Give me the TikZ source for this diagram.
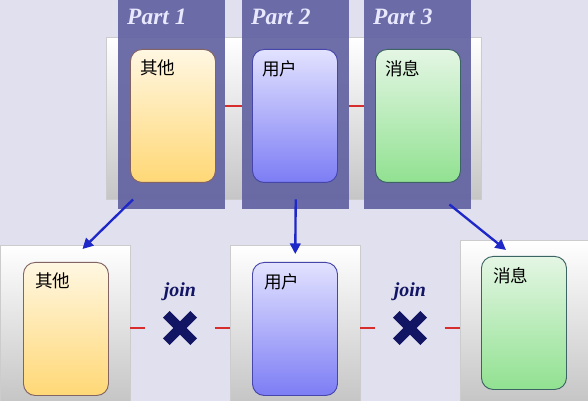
\documentclass[tikz,border=0pt]{standalone}
\usepackage{fontspec}
\setmainfont{Liberation Serif}
\newfontfamily\cjk{Noto Sans CJK SC}
\usetikzlibrary{positioning,arrows.meta}
\newcommand\pxu{0.03cm}
\definecolor{bgc}{RGB}{224,224,238}
\definecolor{bandc}{RGB}{98,98,162}
\definecolor{partc}{RGB}{232,232,255}
\definecolor{arrowc}{RGB}{30,40,200}
\definecolor{navyc}{RGB}{18,20,100}
\definecolor{redc}{RGB}{215,45,45}
\definecolor{yeltop}{RGB}{255,247,226}
\definecolor{yelbot}{RGB}{255,216,118}
\definecolor{yeldraw}{RGB}{130,100,100}
\definecolor{bluetop}{RGB}{226,226,255}
\definecolor{bluebot}{RGB}{125,125,245}
\definecolor{bluedraw}{RGB}{70,70,170}
\definecolor{grntop}{RGB}{228,246,228}
\definecolor{grnbot}{RGB}{145,225,145}
\definecolor{grndraw}{RGB}{60,100,100}
\tikzset{
  container/.style={draw=gray!40, top color=white, bottom color=gray!45, anchor=north west, inner sep=0pt},
  band/.style={fill=bandc, fill opacity=0.92, anchor=north west, inner sep=0pt,
    minimum width=107*\pxu, minimum height=209*\pxu},
  tablebox/.style n args={3}{draw=#1, line width=0.8pt, top color=#2, bottom color=#3,
    rounded corners=10pt, anchor=north west, inner sep=0pt,
    minimum width=85*\pxu, minimum height=133*\pxu},
  tname/.style={anchor=north west, inner sep=0pt, font=\cjk\fontsize{15}{17}\selectfont},
  partlabel/.style={anchor=north west, inner sep=0pt, text=partc, font=\fontsize{20}{22}\selectfont\bfseries\itshape},
  joinlabel/.style={text=navyc, inner sep=0pt, font=\fontsize{17}{19}\selectfont\bfseries\itshape},
  xnode/.style={minimum size=27*\pxu, inner sep=0pt},
  xmark/.style={navyc, line width=8pt},
  link/.style={redc, line width=2.5pt},
  flow/.style={arrowc, line width=2pt, -{Triangle[length=9pt,width=9pt]}}
}
\begin{document}
\begin{tikzpicture}[x=0.03cm,y=-0.03cm]
	\path[use as bounding box, fill=bgc] (0,0) rectangle (588,401);
	% table before split
	\node (topbox) [container, minimum width=375*\pxu, minimum height=162*\pxu] at (106,37) {};
	\foreach \i/\x in {1/118,2/242,3/364} {
		\node (band\i) [band] at (\x,0) {};
		\node [partlabel] at ([shift={(9,9)}]band\i.north west) {Part \i};
	}
	\node (t1) [tablebox={yeldraw}{yeltop}{yelbot}] at (130,49) {};
	\node (t2) [tablebox={bluedraw}{bluetop}{bluebot}] at (252,49) {};
	\node (t3) [tablebox={grndraw}{grntop}{grnbot}] at (375,49) {};
	\node [tname] at ([shift={(10,11)}]t1.north west) {其他};
	\node [tname] at ([shift={(10,11)}]t2.north west) {用户};
	\node [tname] at ([shift={(10,11)}]t3.north west) {消息};
	\coordinate (ry) at (0,106);
	\draw [link] (band1.east |- ry) -- (band2.west |- ry);
	\draw [link] (band2.east |- ry) -- (band3.west |- ry);
	% split tables
	\node (cL) [container, minimum width=130*\pxu, minimum height=156*\pxu] at (0,245) {};
	\node (cM) [container, minimum width=130*\pxu, minimum height=156*\pxu] at (230,245) {};
	\node (cR) [container, minimum width=128*\pxu, minimum height=161*\pxu] at (460,240) {};
	\node (b1) [tablebox={yeldraw}{yeltop}{yelbot}] at (23,262) {};
	\node (b2) [tablebox={bluedraw}{bluetop}{bluebot}] at (252,262) {};
	\node (b3) [tablebox={grndraw}{grntop}{grnbot}] at (481,256) {};
	\node [tname] at ([shift={(12,11)}]b1.north west) {其他};
	\node [tname] at ([shift={(12,11)}]b2.north west) {用户};
	\node [tname] at ([shift={(12,11)}]b3.north west) {消息};
	% arrows
	\draw [flow] ([shift={(15,-10)}]band1.south west) -- ([shift={(-48,4)}]cL.north east);
	\draw [flow] ([shift={(0,-10)}]band2.south) -- ([shift={(0,9)}]cM.north);
	\draw [flow] ([shift={(-22,-5)}]band3.south east) -- ([shift={(46,10)}]cR.north west);
	% joins
	\foreach \i/\x in {1/180,2/410} {
		\node (j\i) [joinlabel] at (\x,292) {join};
		\node (x\i) [xnode] at (\x,328) {};
		\draw [xmark] (x\i.north west) -- (x\i.south east) (x\i.north east) -- (x\i.south west);
	}
	\draw [link] (cL.east |- x1) -- ([shift={(-21,0)}]x1.west);
	\draw [link] ([shift={(21,0)}]x1.east) -- (cM.west |- x1);
	\draw [link] (cM.east |- x2) -- ([shift={(-21,0)}]x2.west);
	\draw [link] ([shift={(21,0)}]x2.east) -- (cR.west |- x2);
\end{tikzpicture}
\end{document}
